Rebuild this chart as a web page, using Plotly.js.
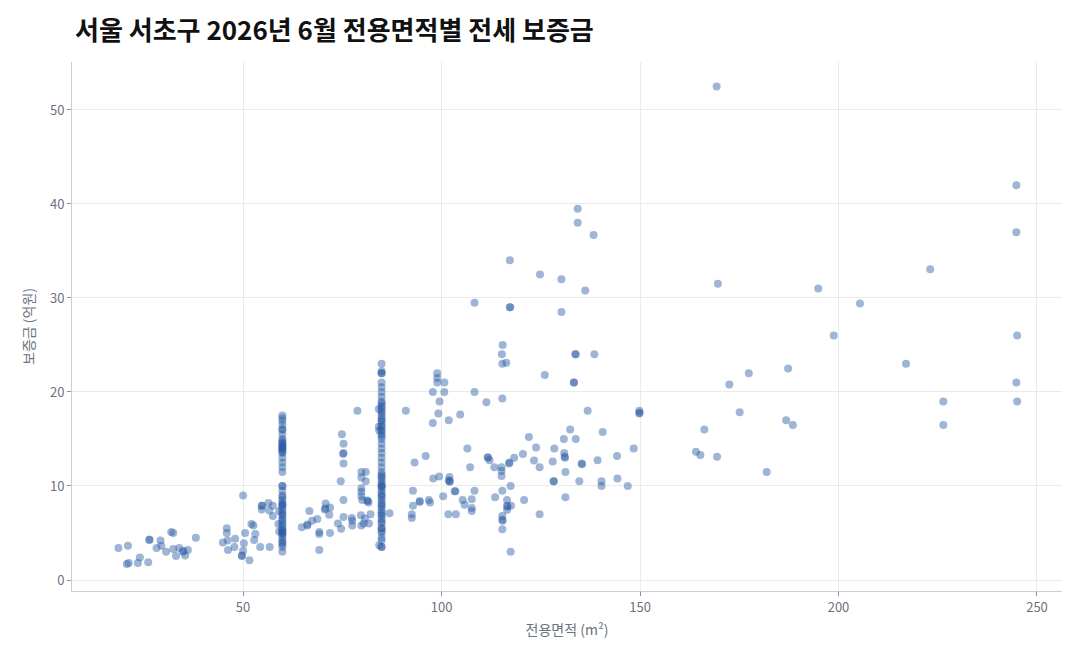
<!DOCTYPE html>
<html>
<head>
<meta charset="utf-8">
<script src="https://cdn.plot.ly/plotly-3.0.1.min.js"></script>
<style>
  html, body { margin: 0; padding: 0; background: #fff; }
  #grafica { width: 1080px; height: 660px; }
</style>
</head>
<body>
<div id="grafica"></div>
<script>
// [전용면적 m², 보증금 억원]
const smallUnits = [
  [18.6, 3.4], [21.0, 3.65], [20.7, 1.7], [21.2, 1.8], [23.5, 1.8], [24.0, 2.4],
  [26.1, 1.9], [26.4, 4.25], [26.4, 4.3], [28.2, 3.4], [29.2, 4.2], [29.4, 3.65],
  [30.6, 3.0], [31.9, 5.1], [32.4, 5.0], [32.4, 3.3], [33.1, 2.55], [33.9, 3.4],
  [34.8, 3.0], [35.0, 3.1], [35.4, 2.6], [36.1, 3.2], [38.1, 4.5], [44.9, 4.0],
  [45.9, 5.5], [45.9, 5.0], [46.1, 4.2], [46.2, 3.2], [48.0, 4.4], [47.8, 3.5],
  [50.0, 9.0], [50.5, 5.0], [50.2, 3.9], [50.0, 3.1], [49.7, 2.55], [49.7, 2.6],
  [51.6, 2.1], [52.1, 5.95], [52.6, 5.8], [53.1, 4.9], [52.8, 4.25], [54.3, 3.5],
  [54.7, 7.9], [54.8, 7.9], [54.7, 7.5], [56.4, 8.2], [56.6, 7.4], [57.5, 7.9],
  [57.5, 6.8], [56.7, 3.5], [59.1, 7.35], [58.9, 5.95], [59.1, 5.15]
];

// 59.9㎡ units
const area60 = 59.9;
const deposit60 = [
  17.5, 17.2, 16.9, 16.5, 16.0, 16.0, 15.5, 15.0, 14.8, 14.6, 14.5, 14.3, 14.2,
  14.0, 14.0, 13.8, 13.6, 13.5, 13.0, 12.5, 12.0, 11.5, 10.0, 10.0, 9.5, 9.0,
  8.8, 8.5, 8.2, 8.0, 8.0, 7.8, 7.5, 7.2, 7.0, 6.8, 6.5, 6.3, 6.0, 5.8, 5.5,
  5.3, 5.2, 5.0, 5.0, 4.8, 4.5, 4.2, 4.0, 3.8, 3.5, 3.0
];

const midUnits = [
  [64.8, 5.6], [66.2, 5.8], [66.2, 5.9], [66.7, 7.35], [67.4, 6.3], [68.7, 6.5],
  [69.2, 5.1], [69.2, 4.9], [69.2, 3.2], [70.8, 8.15], [70.6, 7.5], [70.7, 7.6],
  [71.9, 7.7], [71.7, 6.95], [71.9, 5.0], [73.9, 6.0], [74.7, 5.45], [75.3, 6.7],
  [74.6, 10.5], [75.3, 8.5], [74.9, 15.5], [75.3, 14.5], [75.3, 13.5], [75.2, 13.4],
  [75.3, 12.4], [77.4, 6.6], [77.5, 6.3], [77.5, 5.8], [78.8, 18.0], [79.7, 6.9],
  [79.8, 5.8], [79.8, 11.5], [80.9, 11.5], [79.8, 10.9], [80.9, 10.5], [79.8, 9.75],
  [79.8, 9.4], [79.8, 8.9], [80.0, 8.5], [81.3, 8.45], [81.4, 8.4], [81.6, 8.25],
  [80.4, 6.0], [81.7, 6.0], [82.1, 7.0], [80.7, 6.55],
  [84.2, 18.2], [84.2, 16.3], [84.3, 15.9], [84.3, 3.7]
];

// 84.9㎡ units
const area85 = 84.9;
const deposit85 = [
  23.0, 22.2, 22.0, 22.0, 21.0, 20.5, 20.0, 19.5, 19.0, 18.8, 18.5, 18.3, 18.0,
  17.8, 17.5, 17.2, 17.0, 16.8, 16.5, 16.3, 16.0, 15.8, 15.5, 15.3, 15.0, 14.5,
  14.0, 13.5, 13.0, 12.5, 12.0, 11.5, 11.2, 11.0, 10.8, 10.5, 10.2, 10.0, 10.0,
  9.8, 9.5, 9.2, 9.0, 8.8, 8.5, 8.2, 8.0, 7.8, 7.5, 7.2, 7.0, 6.8, 6.5, 6.2,
  6.0, 5.5, 5.5, 5.2, 5.0, 4.5, 4.2, 3.5, 3.5
];

const largeUnits = [
  [86.9, 7.1], [91.0, 18.0], [93.2, 12.5], [92.8, 9.5], [92.8, 7.9], [92.5, 7.0],
  [92.5, 6.6], [94.5, 8.3], [94.5, 8.4], [96.0, 13.2], [96.8, 8.5], [97.1, 8.25],
  [97.8, 20.0], [98.9, 22.0], [98.9, 21.5], [98.9, 21.0], [99.5, 19.0], [99.2, 17.7],
  [97.8, 16.7], [100.7, 21.0], [100.7, 20.0], [97.9, 10.8], [99.4, 11.0],
  [101.8, 17.0], [104.7, 17.6], [102.0, 10.95], [101.8, 10.6], [102.0, 10.45],
  [102.1, 10.5], [103.3, 9.45], [103.5, 9.45], [100.4, 8.9], [101.7, 7.0], [103.6, 7.0],
  [105.3, 8.5], [105.8, 8.0], [107.6, 8.6], [107.6, 7.65], [107.6, 7.35], [106.5, 14.0],
  [107.2, 12.0], [108.3, 29.5], [108.3, 20.0], [108.3, 9.5], [111.3, 18.9],
  [111.6, 13.05], [111.7, 13.0], [112.1, 12.75], [113.3, 12.0], [113.5, 8.8],
  [115.4, 25.0], [115.2, 24.0], [115.3, 23.0], [116.3, 23.1], [115.3, 19.3],
  [115.1, 12.0], [115.1, 11.6], [115.1, 11.05], [115.3, 9.5], [115.3, 6.8],
  [115.3, 6.4], [115.4, 6.3], [115.3, 5.4], [116.5, 8.5], [116.5, 7.9], [116.6, 7.8],
  [116.5, 7.45], [117.5, 7.9], [117.4, 10.0], [117.4, 3.0], [117.0, 12.4],
  [117.1, 12.5], [117.2, 29.0], [117.3, 29.0], [117.2, 34.0], [118.3, 13.0],
  [120.5, 13.4], [120.8, 8.5], [122.0, 15.2], [123.3, 12.7], [123.8, 14.1],
  [124.7, 12.0], [124.7, 7.0], [124.8, 32.5], [126.0, 21.8], [128.0, 12.6],
  [128.2, 10.5], [128.3, 10.5], [128.4, 14.0], [130.2, 32.0], [130.2, 28.5],
  [130.8, 15.0], [130.9, 13.5], [131.0, 13.1], [131.1, 13.0], [131.2, 11.5],
  [131.2, 8.8], [132.4, 16.0], [133.3, 21.0], [133.4, 21.0], [133.7, 24.0],
  [133.8, 24.0], [133.8, 15.0], [134.3, 39.5], [134.3, 38.0], [134.7, 10.5],
  [135.3, 12.4], [135.4, 12.3], [136.2, 30.8], [136.8, 18.0], [138.3, 36.7],
  [138.5, 24.0], [139.3, 12.75], [140.3, 10.5], [140.3, 10.0], [140.6, 15.75],
  [144.2, 13.2], [144.3, 10.8], [146.9, 10.0], [148.4, 14.0], [149.8, 18.0],
  [149.8, 17.7], [149.9, 17.8]
];

const hugeUnits = [
  [164.1, 13.65], [165.2, 13.3], [166.2, 16.0], [169.3, 52.5], [169.4, 13.1],
  [169.6, 31.5], [172.5, 20.8], [175.1, 17.85], [177.4, 22.0], [181.9, 11.5],
  [186.8, 17.0], [187.3, 22.5], [188.5, 16.5], [194.9, 31.0], [198.8, 26.0],
  [205.4, 29.4], [217.0, 23.0], [223.1, 33.05], [226.4, 19.0], [226.4, 16.5],
  [244.8, 42.0], [244.8, 37.0], [245.0, 26.0], [244.8, 21.0], [245.0, 19.0]
];

const xTicks = [50, 100, 150, 200, 250];
const yTicks = [0, 10, 20, 30, 40, 50];

const puntos = [
  ...smallUnits,
  ...deposit60.map(y => [area60, y]),
  ...midUnits,
  ...deposit85.map(y => [area85, y]),
  ...largeUnits,
  ...hugeUnits
];

const traza = {
  x: puntos.map(p => p[0]),
  y: puntos.map(p => p[1]),
  type: 'scatter',
  mode: 'markers',
  marker: { color: '#2b5aa5', size: 8, opacity: 0.45, line: { width: 0 } },
  hoverinfo: 'x+y'
};

const ejeComun = {
  showline: true,
  linecolor: '#c9ced8',
  linewidth: 1,
  ticks: 'outside',
  ticklen: 4,
  tickcolor: '#8a909c',
  gridcolor: '#ebebeb',
  gridwidth: 1,
  zeroline: false,
  tickfont: { size: 13, color: '#6b7280' }
};

const layout = {
  width: 1080,
  height: 660,
  paper_bgcolor: '#ffffff',
  plot_bgcolor: '#ffffff',
  font: { family: '"Noto Sans CJK KR", "Noto Sans", sans-serif', color: '#333' },
  title: {
    text: '<b>서울 서초구 2026년 6월 전용면적별 전세 보증금</b>',
    xref: 'container',
    x: 75 / 1080,
    xanchor: 'left',
    yref: 'container',
    y: 1 - 31 / 660,
    yanchor: 'middle',
    font: { size: 26, color: '#111111' }
  },
  xaxis: {
    ...ejeComun,
    range: [6.9, 256.3],
    tickvals: xTicks,
    title: { text: '전용면적 (m²)', font: { size: 14, color: '#6b7280' }, standoff: 10 }
  },
  yaxis: {
    ...ejeComun,
    range: [-1.17, 55.1],
    tickvals: yTicks,
    title: { text: '보증금 (억원)', font: { size: 14, color: '#6b7280' }, standoff: 12 }
  },
  showlegend: false,
  margin: { l: 72, r: 18, t: 62, b: 69 }
};

Plotly.newPlot('grafica', [traza], layout, { displayModeBar: false, responsive: false });
</script>
</body>
</html>
